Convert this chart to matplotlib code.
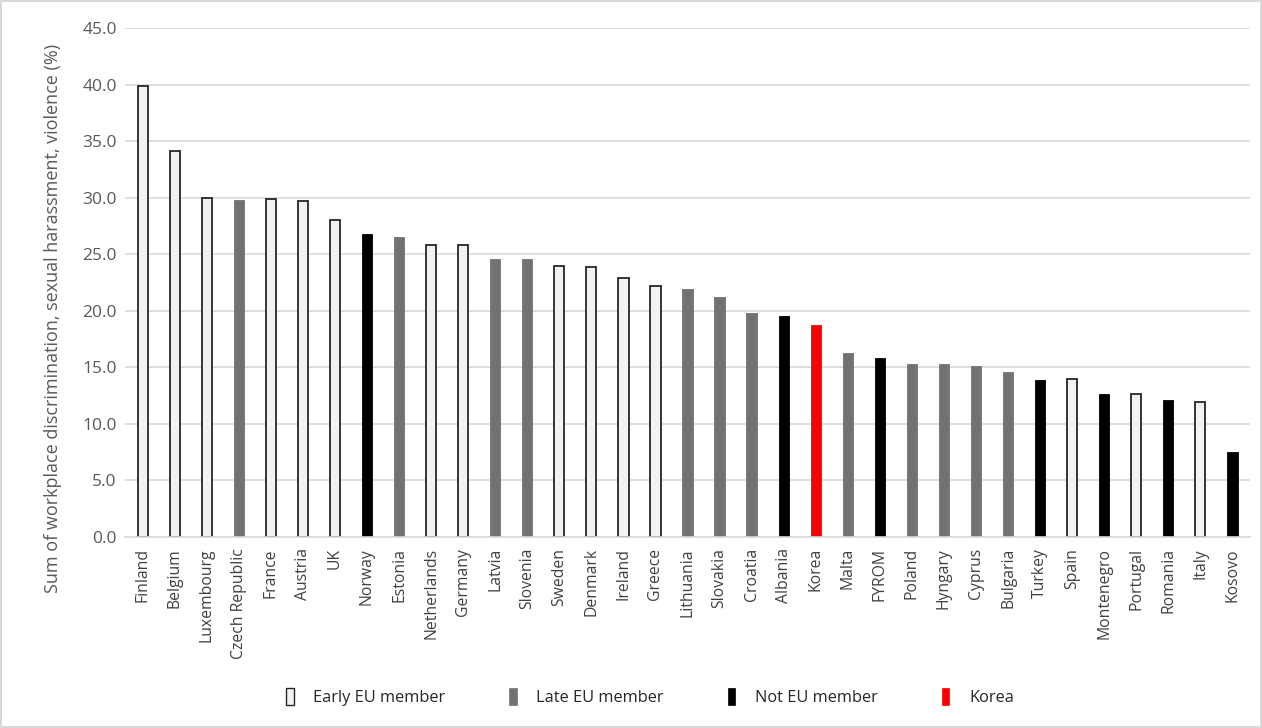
import matplotlib
matplotlib.use("Agg")
import matplotlib.pyplot as plt
from matplotlib.patches import Patch

plt.rcParams['font.family'] = ['Open Sans', 'DejaVu Sans']

# Countries in descending order of the summed indicator
countries = ["Finland", "Belgium", "Luxembourg", "Czech Republic", "France", "Austria", "UK",
             "Norway", "Estonia", "Netherlands", "Germany", "Latvia", "Slovenia", "Sweden",
             "Denmark", "Ireland", "Greece", "Lithuania", "Slovakia", "Croatia", "Albania",
             "Korea", "Malta", "FYROM", "Poland", "Hyngary", "Cyprus", "Bulgaria", "Turkey",
             "Spain", "Montenegro", "Portugal", "Romania", "Italy", "Kosovo"]
values = [39.9, 34.1, 30.0, 29.8, 29.9, 29.7, 28.0,
          26.8, 26.5, 25.8, 25.8, 24.6, 24.6, 24.0,
          23.9, 22.9, 22.2, 21.9, 21.2, 19.8, 19.5,
          18.7, 16.3, 15.8, 15.3, 15.3, 15.1, 14.6, 13.9,
          14.0, 12.6, 12.6, 12.1, 11.9, 7.5]
groups = ["early", "early", "early", "late", "early", "early", "early",
          "not", "late", "early", "early", "late", "late", "early",
          "early", "early", "early", "late", "late", "late", "not",
          "korea", "late", "not", "late", "late", "late", "late", "not",
          "early", "not", "early", "not", "early", "not"]

group_labels = {"early": "Early EU member", "late": "Late EU member",
                "not": "Not EU member", "korea": "Korea"}
fills = {"early": "#f2f2f2", "late": "#767171", "not": "#000000", "korea": "#ff0000"}
edges = {"early": "#262626", "late": "#767171", "not": "#000000", "korea": "#ff0000"}

fig = plt.figure(figsize=(12.62, 7.28), dpi=100)
fig.patch.set_edgecolor("#d9d9d9")
fig.patch.set_linewidth(1.5)
ax = fig.add_axes([125 / 1262, 1 - 537 / 728, 1125 / 1262, 509 / 728])

x = range(len(countries))
for i, (v, g) in enumerate(zip(values, groups)):
    lw = 1.3 if g == "early" else 0.6
    ax.bar(i, v, width=0.32, color=fills[g], edgecolor=edges[g], linewidth=lw, zorder=3)

ax.set_ylim(0, 45)
ax.set_yticks([i * 5 for i in range(10)])
ax.set_yticklabels([f"{i * 5:.1f}" for i in range(10)])
ax.set_xlim(-0.55, len(countries) - 0.45)
ax.set_xticks(list(x))
ax.set_xticklabels(countries, rotation=90, fontsize=11.3, color="#404040")
ax.tick_params(axis="y", labelsize=12.5, colors="#595959", length=0, pad=6)
ax.tick_params(axis="x", length=0, pad=8)
ax.yaxis.grid(True, color="#d9d9d9", linewidth=1.2, zorder=0)
for s in ["top", "right", "left"]:
    ax.spines[s].set_visible(False)
ax.spines["bottom"].set_color("#d9d9d9")
ax.spines["bottom"].set_linewidth(1.2)
ax.spines["bottom"].set_zorder(4)

ax.set_ylabel("Sum of workplace discrimination, sexual harassment, violence (%)",
              fontsize=13, color="#595959", labelpad=8)
ax.yaxis.set_label_coords(-0.056, 0.43)

handles = [Patch(facecolor=fills[k], edgecolor=edges[k], linewidth=1.0 if k == "early" else 0.5,
                 label=group_labels[k]) for k in ["early", "late", "not", "korea"]]
fig.legend(handles=handles, loc="center", bbox_to_anchor=(650 / 1262, 1 - 697 / 728),
           ncol=4, frameon=False, fontsize=11.8, handlelength=0.45, handleheight=1.2,
           columnspacing=3.9, handletextpad=1.2, labelcolor="#262626")

fig.savefig("out.png", dpi=100)
